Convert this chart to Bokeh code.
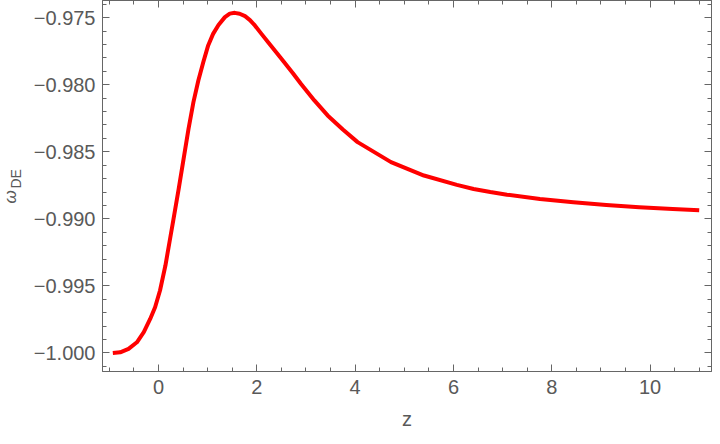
from bokeh.plotting import figure
from bokeh.layouts import row
from bokeh.models import Range1d, SingleIntervalTicker, LinearAxis, CustomJSTickFormatter, Label
from bokeh.embed import file_html
from bokeh.resources import INLINE
import math

# data
z_vals = [-0.93, -0.78, -0.61, -0.44, -0.30, -0.17, -0.07, 0.03, 0.14, 0.24,
          0.30, 0.41, 0.51, 0.61, 0.71, 0.81, 0.91, 1.01, 1.11, 1.22, 1.35,
          1.45, 1.55, 1.65, 1.76, 1.86, 1.96, 2.09, 2.23, 2.50, 2.73, 2.90, 3.17,
          3.44, 3.75, 4.05, 4.73, 5.40, 6.07, 6.41, 6.75, 7.09, 7.76, 8.44,
          9.11, 9.78, 10.46, 11.0]
w_vals = [-1.00000, -0.99995, -0.99969, -0.99920, -0.99845, -0.99746, -0.99659,
          -0.99534, -0.99348, -0.99137, -0.99012, -0.98776, -0.98553, -0.98329,
          -0.98130, -0.97968, -0.97832, -0.97707, -0.97621, -0.97554, -0.97496,
          -0.97470, -0.97464, -0.97471, -0.97489, -0.97518, -0.97558, -0.97619,
          -0.97683, -0.97807, -0.97912, -0.97994, -0.98117, -0.98229, -0.98334,
          -0.98428, -0.98577, -0.98677, -0.98747, -0.98777, -0.98800, -0.98820,
          -0.98852, -0.98877, -0.98897, -0.98913, -0.98926, -0.98936]

x_label = "z"
y_label_main = "ω"
y_label_sub = "DE"

FRAME = "#666666"
TEXT = "#595959"
FONT = "Liberation Sans"

p = figure(width=682, height=436, output_backend="svg", toolbar_location=None,
           x_range=Range1d(-1.14, 11.25), y_range=Range1d(-1.00138, -0.97372),
           min_border_left=69, min_border_right=1, min_border_top=0, min_border_bottom=65,
           background_fill_color="white", border_fill_color="white")
p.grid.visible = False
p.outline_line_color = FRAME

p.add_layout(LinearAxis(), "above")
p.add_layout(LinearAxis(), "right")

xt = SingleIntervalTicker(interval=2, num_minor_ticks=4)
yt = SingleIntervalTicker(interval=0.005, num_minor_ticks=5)
for ax in p.xaxis:
    ax.ticker = xt
for ax in p.yaxis:
    ax.ticker = yt

for ax in list(p.xaxis) + list(p.yaxis):
    ax.axis_line_color = FRAME
    ax.major_tick_line_color = FRAME
    ax.minor_tick_line_color = FRAME
    ax.major_tick_in = 7
    ax.major_tick_out = 0
    ax.minor_tick_in = 4
    ax.minor_tick_out = 0
    ax.major_label_text_font = FONT
    ax.major_label_text_font_size = "20px"
    ax.major_label_text_color = TEXT

# mirrored axes: ticks only, no labels
for ax in (p.above[0], p.right[0]):
    ax.formatter = CustomJSTickFormatter(code="return '';")
    ax.major_label_text_font_size = "1px"
    ax.major_label_text_color = None
    ax.major_label_standoff = 0
    ax.axis_label = None

bx = p.below[0]
bx.major_label_standoff = 8
bx.axis_label = x_label
bx.axis_label_text_font = FONT
bx.axis_label_text_font_size = "20px"
bx.axis_label_text_font_style = "normal"
bx.axis_label_text_color = TEXT
bx.axis_label_standoff = 11

ly = p.left[0]
ly.major_label_standoff = 7
ly.formatter = CustomJSTickFormatter(code="return (tick < 0 ? '\\u2212' : '') + Math.abs(tick).toFixed(3);")

p.line(z_vals, w_vals, line_color="#ff0000", line_width=4, line_join="round")

# narrow strip holding the y-axis title (omega with subscript DE)
lab = figure(width=30, height=436, output_backend="svg", toolbar_location=None,
             x_range=Range1d(0, 1), y_range=Range1d(0, 1),
             x_axis_type=None, y_axis_type=None,
             min_border_left=0, min_border_right=0, min_border_top=0, min_border_bottom=0,
             background_fill_color="white", border_fill_color="white")
lab.outline_line_color = None
lab.grid.visible = False
lab.add_layout(Label(x=10, y=168, x_units="screen", y_units="screen", text=y_label_main,
                     angle=math.pi / 2, text_font=FONT, text_font_size="17px",
                     text_font_style="italic", text_color=TEXT,
                     text_align="left", text_baseline="alphabetic"))
lab.add_layout(Label(x=15, y=183, x_units="screen", y_units="screen", text=y_label_sub,
                     angle=math.pi / 2, text_font=FONT, text_font_size="14px",
                     text_color=TEXT, text_align="left", text_baseline="alphabetic"))

layout = row(lab, p, spacing=0)

open("out.html", "w").write(file_html(layout, INLINE))
